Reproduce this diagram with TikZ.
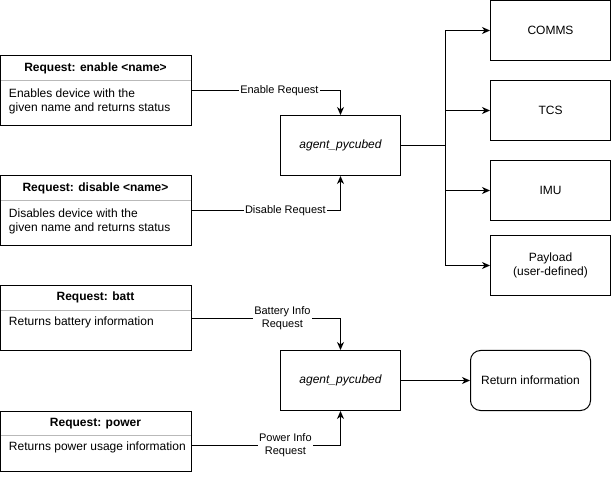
\documentclass[tikz,border=0pt]{standalone}
\usepackage{fontspec}
\setmainfont{Liberation Sans}
\usetikzlibrary{arrows.meta}
\begin{document}
\begin{tikzpicture}[x=1pt,y=1pt,line width=1pt,
  box/.style={draw, rectangle, minimum width=120pt, minimum height=60pt, inner sep=0pt,
    font=\fontsize{12}{14}\selectfont, align=center},
  reqbox/.style={draw, rectangle, minimum width=190pt, inner sep=0pt, anchor=north west},
  reqtitle/.style={font=\fontsize{12}{14}\selectfont\bfseries, inner sep=0pt, anchor=base},
  reqbody/.style={font=\fontsize{12}{14}\selectfont, inner sep=0pt, anchor=north west, align=left},
  divider/.style={draw=gray!55, line width=1pt},
  conn/.style={draw, -{Stealth[length=8pt,width=7pt,inset=2.5pt]}},
  lbl/.style={fill=white, inner sep=1pt, font=\fontsize{11}{13}\selectfont, align=center},
]
\useasboundingbox (-0.5,0.5) rectangle (610.5,-480.5);

% request boxes
\node[reqbox, minimum height=70pt] (en) at (0,-55) {};
\node[reqtitle] (enT) at (95,-71) {Request: enable <name>};
\draw[divider] ([yshift=-25pt,xshift=0.5pt]en.north west) -- ([yshift=-25pt,xshift=-0.5pt]en.north east);
\node[reqbody] (enB) at (8,-88) {Enables device with the\\given name and returns status};

\node[reqbox, minimum height=70pt] (dis) at (0,-175) {};
\node[reqtitle] (disT) at (95,-191) {Request: disable <name>};
\draw[divider] ([yshift=-25pt,xshift=0.5pt]dis.north west) -- ([yshift=-25pt,xshift=-0.5pt]dis.north east);
\node[reqbody] (disB) at (8,-208) {Disables device with the\\given name and returns status};

\node[reqbox, minimum height=65pt] (bat) at (0,-285) {};
\node[reqtitle] (batT) at (95,-300.5) {Request: batt};
\draw[divider] ([yshift=-25pt,xshift=0.5pt]bat.north west) -- ([yshift=-25pt,xshift=-0.5pt]bat.north east);
\node[reqbody] (batB) at (8,-315.5) {Returns battery information};

\node[reqbox, minimum height=60pt] (pow) at (0,-410) {};
\node[reqtitle] (powT) at (95,-425.5) {Request: power};
\draw[divider] ([yshift=-25pt,xshift=0.5pt]pow.north west) -- ([yshift=-25pt,xshift=-0.5pt]pow.north east);
\node[reqbody] (powB) at (8,-440.5) {Returns power usage information};

% agents
\node[box, font=\fontsize{12}{14}\selectfont\itshape] (ag1) at (340,-145) {agent\_pycubed};
\node[box, font=\fontsize{12}{14}\selectfont\itshape] (ag2) at (340,-380) {agent\_pycubed};

% subsystems
\node[box] (comms) at (550,-30) {COMMS};
\node[box] (tcs) at (550,-110) {TCS};
\node[box] (imu) at (550,-190) {IMU};
\node[box] (pay) at (550,-265) {Payload\\(user-defined)};
\node[box, rounded corners=10pt] (ret) at (530,-380) {Return information};

% requests into the agents
\coordinate (enJ) at (340,-90);
\coordinate (disJ) at (340,-210.5);
\coordinate (batJ) at (340,-318);
\coordinate (powJ) at (340,-445);
\draw[conn] (en.east |- enJ) -- node[lbl, pos=0.59] {Enable Request} (enJ) -- (ag1.north);
\draw[conn] (dis.east |- disJ) -- node[lbl, pos=0.63] {Disable Request} (disJ) -- (ag1.south);
\draw[conn] (bat.east |- batJ) -- node[lbl, pos=0.61] {Battery Info\\Request} (batJ) -- (ag2.north);
\draw[conn] (pow.east |- powJ) -- node[lbl, pos=0.63] {Power Info\\Request} (powJ) -- (ag2.south);

% agent to subsystems
\coordinate (hub) at (445,-145);
\draw (ag1.east) -- (hub);
\draw[conn] (hub) |- (comms.west);
\draw[conn] (hub) |- (tcs.west);
\draw[conn] (hub) |- (imu.west);
\draw[conn] (hub) |- (pay.west);

% agent to return
\draw[conn] (ag2.east) -- (ret.west);
\end{tikzpicture}
\end{document}
